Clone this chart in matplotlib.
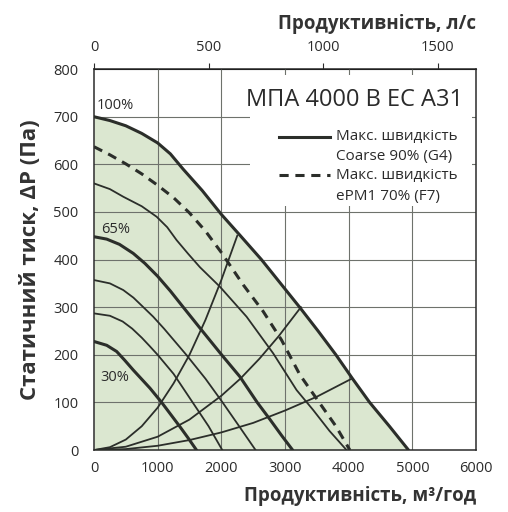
import matplotlib
matplotlib.use("Agg")
import matplotlib.pyplot as plt
from matplotlib.patches import Rectangle

plt.rcParams['font.family'] = ['Open Sans', 'DejaVu Sans']

# max speed curves (m3/h, Pa)
x_100 = [0, 250, 500, 750, 1000, 1200, 1400, 1700, 2000, 2300, 2630, 2930, 3230, 3520, 3800, 4060, 4330, 4640, 4940]
y_100 = [700, 692, 681, 665, 645, 622, 590, 545, 495, 450, 400, 350, 300, 250, 200, 150, 100, 50, 0]

x_f7 = [0, 250, 500, 750, 990, 1250, 1500, 1750, 2000, 2344, 2658, 2946, 3234, 3548, 3800, 4019]
y_f7 = [637, 620, 601, 580, 557, 530, 498, 460, 415, 347, 291, 231, 158, 98, 50, 0]

x_thin_a = [0, 250, 460, 750, 984, 1150, 1297, 1480, 1664, 1978, 2397, 2815, 3182, 3443, 3700, 3967]
y_thin_a = [560, 548, 532, 512, 490, 468, 441, 412, 384, 343, 280, 203, 126, 84, 40, 0]

x_65 = [0, 200, 400, 617, 800, 1000, 1200, 1402, 1690, 2005, 2292, 2564, 2760, 2950, 3120]
y_65 = [448, 443, 432, 413, 392, 365, 334, 300, 252, 200, 154, 100, 65, 30, 0]

x_thin_b = [0, 250, 460, 620, 760, 930, 1100, 1450, 1750, 2020, 2280, 2538]
y_thin_b = [357, 350, 336, 320, 302, 280, 255, 200, 150, 100, 50, 0]

x_thin_c = [0, 250, 450, 600, 750, 870, 1000, 1250, 1550, 1800, 2015]
y_thin_c = [287, 282, 270, 255, 236, 219, 200, 160, 100, 50, 0]

x_30 = [0, 200, 356, 480, 617, 879, 1063, 1350, 1480, 1610]
y_30 = [228, 220, 207, 189, 168, 130, 100, 49, 25, 0]

# system curves from the origin
x_sys1 = [0, 250, 500, 750, 1000, 1250, 1500, 1750, 2000, 2250]
y_sys1 = [0, 6, 22, 50, 89, 140, 200, 273, 357, 450]

x_sys2 = [0, 500, 1000, 1500, 2000, 2300, 2600, 2900, 3250]
y_sys2 = [0, 7, 28, 64, 114, 150, 192, 239, 300]

x_sys3 = [0, 500, 1000, 1500, 2000, 2500, 3000, 3500, 4050]
y_sys3 = [0, 2, 9, 21, 37, 57, 83, 112, 150]

x_ticks = [0, 1000, 2000, 3000, 4000, 5000, 6000]
y_ticks = [0, 100, 200, 300, 400, 500, 600, 700, 800]
top_ticks = [0, 500, 1000, 1500]

line_col = '#2b2e2a'
fill_col = '#dbe7d0'
grid_col = '#6e726c'
txt_col = '#2b2b2b'

fig = plt.figure(figsize=(5.08, 5.12), dpi=100)
ax = fig.add_axes([0.185, 0.121, 0.752, 0.744])
ax.set_xlim(0, 6000)
ax.set_ylim(0, 800)

ax.fill_between(x_100, y_100, 0, color=fill_col, zorder=0, lw=0)
for xv in x_ticks[1:-1]:
    ax.axvline(xv, color=grid_col, lw=0.8, zorder=1)
for yv in y_ticks[1:-1]:
    ax.axhline(yv, color=grid_col, lw=0.8, zorder=1)
ax.add_patch(Rectangle((2450, 512), 3480, 276, facecolor='white', edgecolor='none', zorder=1.5))

for xs, ys in [(x_sys1, y_sys1), (x_sys2, y_sys2), (x_sys3, y_sys3),
               (x_thin_a, y_thin_a), (x_thin_b, y_thin_b), (x_thin_c, y_thin_c)]:
    ax.plot(xs, ys, color=line_col, lw=1.3, zorder=3)
for xs, ys in [(x_100, y_100), (x_65, y_65), (x_30, y_30)]:
    ax.plot(xs, ys, color=line_col, lw=2.2, zorder=4, solid_capstyle='round')
ax.plot(x_f7, y_f7, color=line_col, lw=2.2, ls=(0, (3, 2.2)), zorder=4)

ax.text(45, 708, '100%', fontsize=10.5, color=txt_col, va='bottom', zorder=5)
ax.text(120, 463, '65%', fontsize=10.5, color=txt_col, va='center', zorder=5)
ax.text(100, 153, '30%', fontsize=10.5, color=txt_col, va='center', zorder=5)

ax.text(5790, 735, 'МПА 4000 В ЕС А31', fontsize=17, color=txt_col, ha='right', va='center', zorder=5)
ax.plot([2900, 3700], [658, 658], color=line_col, lw=2.2, zorder=5)
ax.plot([2900, 3700], [578, 578], color=line_col, lw=2.2, ls=(0, (3, 2.2)), zorder=5)
ax.text(3800, 658, 'Макс. швидкість', fontsize=11, color=txt_col, va='center', zorder=5)
ax.text(3800, 616, 'Coarse 90% (G4)', fontsize=11, color=txt_col, va='center', zorder=5)
ax.text(3800, 576, 'Макс. швидкість', fontsize=11, color=txt_col, va='center', zorder=5)
ax.text(3800, 532, 'ePM1 70% (F7)', fontsize=11, color=txt_col, va='center', zorder=5)

ax.set_xticks(x_ticks)
ax.set_yticks(y_ticks)
ax.tick_params(length=0, labelsize=10.5, colors=txt_col)
ax.tick_params(axis='x', pad=8)
ax.tick_params(axis='y', pad=11)
for s in ax.spines.values():
    s.set_color(txt_col)
    s.set_linewidth(1.1)

top = ax.secondary_xaxis('top', functions=(lambda v: v / 3.6, lambda v: v * 3.6))
top.set_xticks(top_ticks)
top.tick_params(direction='out', length=4, width=0.8, labelsize=10.5, colors=txt_col, pad=6)
top.set_xlabel('Продуктивність, л/с', fontsize=13.5, fontweight='bold', color='#333333', loc='right', labelpad=8)

ax.set_xlabel('Продуктивність, м³/год', fontsize=13.5, fontweight='bold', color='#333333', loc='right', labelpad=7)
ax.set_ylabel('Статичний тиск, ΔP (Па)', fontsize=16, fontweight='bold', color='#333333', labelpad=9)

fig.savefig('out.png', dpi=100)
